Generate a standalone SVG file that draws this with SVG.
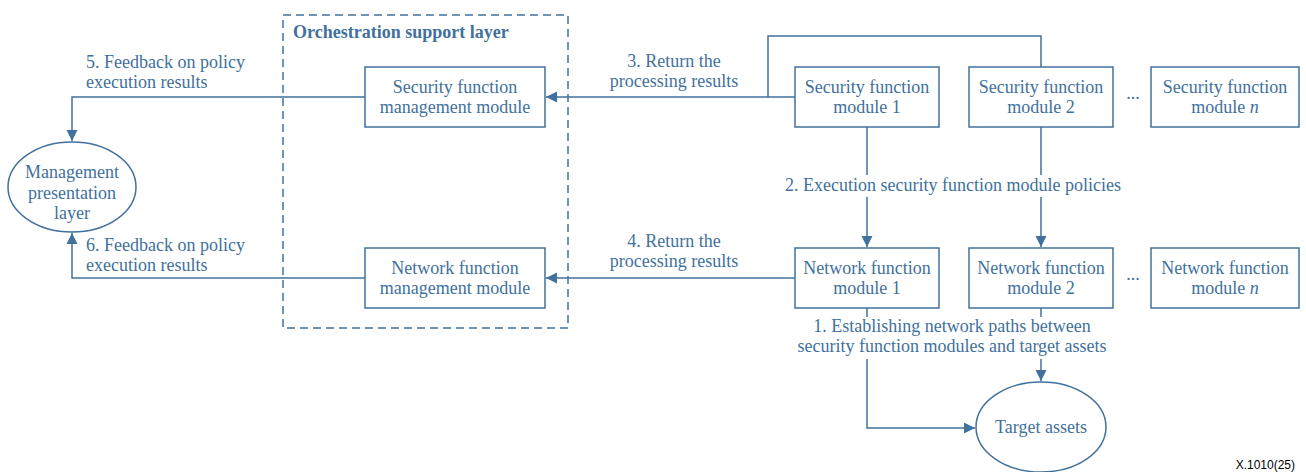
<svg xmlns="http://www.w3.org/2000/svg" width="1306" height="472" viewBox="0 0 1306 472">
<style>
.box{fill:#fff;stroke:#41719c;stroke-width:1.5}
.ln{fill:none;stroke:#41719c;stroke-width:1.5}
.t{font-family:"Liberation Serif","Times New Roman",serif;font-size:18px;fill:#41719c}
.c{text-anchor:middle}
.bg{fill:#fff}
</style>
<defs>
<marker id="ah" markerUnits="userSpaceOnUse" markerWidth="12" markerHeight="12" refX="11" refY="6" orient="auto">
<path d="M0,0.5 L11,6 L0,11.5 z" fill="#41719c"/>
</marker>
</defs>
<rect width="1306" height="472" fill="#fff"/>
<g id="orchestration-layer">
<rect x="283" y="15" width="285" height="313" fill="none" stroke="#41719c" stroke-width="1.5" stroke-dasharray="8,5"/>
<text class="t" x="293" y="38" font-weight="bold">Orchestration support layer</text>
</g>
<g id="connectors">
<path class="ln" d="M795,97 H546" marker-end="url(#ah)"/>
<path class="ln" d="M768,97 V36 H1041 V67"/>
<path class="ln" d="M795,278 H546" marker-end="url(#ah)"/>
<path class="ln" d="M365,97 H72 V141" marker-end="url(#ah)"/>
<path class="ln" d="M365,278 H72 V233" marker-end="url(#ah)"/>
<path class="ln" d="M867,127 V247" marker-end="url(#ah)"/>
<path class="ln" d="M1041,127 V247" marker-end="url(#ah)"/>
<path class="ln" d="M867,308 V428 H975" marker-end="url(#ah)"/>
<path class="ln" d="M1041,308 V381" marker-end="url(#ah)"/>
<rect class="bg" x="774" y="175" width="358" height="22"/>
<rect class="bg" x="788" y="317" width="328" height="42"/>
<text class="t" x="86" y="68">5. Feedback on policy</text>
<text class="t" x="86" y="88">execution results</text>
<text class="t" x="86" y="251">6. Feedback on policy</text>
<text class="t" x="86" y="271">execution results</text>
<text class="t c" x="674" y="67">3. Return the</text>
<text class="t c" x="674" y="87">processing results</text>
<text class="t c" x="674" y="247">4. Return the</text>
<text class="t c" x="674" y="267">processing results</text>
<text class="t c" x="953" y="191">2. Execution security function module policies</text>
<text class="t c" x="952" y="332">1. Establishing network paths between</text>
<text class="t c" x="952" y="352">security function modules and target assets</text>
</g>
<g id="mgmt-presentation">
<ellipse class="box" cx="72" cy="187" rx="64" ry="45"/>
<text class="t c" x="72" y="178">Management</text>
<text class="t c" x="72" y="199">presentation</text>
<text class="t c" x="72" y="219">layer</text>
</g>
<g id="sec-mgmt">
<rect class="box" x="365" y="67" width="180" height="60"/>
<text class="t c" x="455" y="93">Security function</text>
<text class="t c" x="455" y="113">management module</text>
</g>
<g id="net-mgmt">
<rect class="box" x="365" y="248" width="180" height="60"/>
<text class="t c" x="455" y="274">Network function</text>
<text class="t c" x="455" y="294">management module</text>
</g>
<g id="sfm1">
<rect class="box" x="795" y="67" width="144" height="60"/>
<text class="t c" x="867" y="93">Security function</text>
<text class="t c" x="867" y="113">module 1</text>
</g>
<g id="sfm2">
<rect class="box" x="969" y="67" width="144" height="60"/>
<text class="t c" x="1041" y="93">Security function</text>
<text class="t c" x="1041" y="113">module 2</text>
</g>
<g id="sfmn">
<rect class="box" x="1151" y="67" width="148" height="60"/>
<text class="t c" x="1225" y="93">Security function</text>
<text class="t c" x="1225" y="113">module <tspan font-style="italic">n</tspan></text>
</g>
<g id="nfm1">
<rect class="box" x="795" y="248" width="144" height="60"/>
<text class="t c" x="867" y="274">Network function</text>
<text class="t c" x="867" y="294">module 1</text>
</g>
<g id="nfm2">
<rect class="box" x="969" y="248" width="144" height="60"/>
<text class="t c" x="1041" y="274">Network function</text>
<text class="t c" x="1041" y="294">module 2</text>
</g>
<g id="nfmn">
<rect class="box" x="1151" y="248" width="148" height="60"/>
<text class="t c" x="1225" y="274">Network function</text>
<text class="t c" x="1225" y="294">module <tspan font-style="italic">n</tspan></text>
</g>
<g id="ellipsis">
<text class="t c" x="1133" y="99" font-size="11">...</text>
<text class="t c" x="1133" y="280" font-size="11">...</text>
</g>
<g id="target-assets">
<ellipse class="box" cx="1041" cy="427" rx="65" ry="45"/>
<text class="t c" x="1041" y="433">Target assets</text>
</g>
<text x="1295" y="469" text-anchor="end" font-family="Liberation Sans, Arial, sans-serif" font-size="12" fill="#000">X.1010(25)</text>
</svg>
